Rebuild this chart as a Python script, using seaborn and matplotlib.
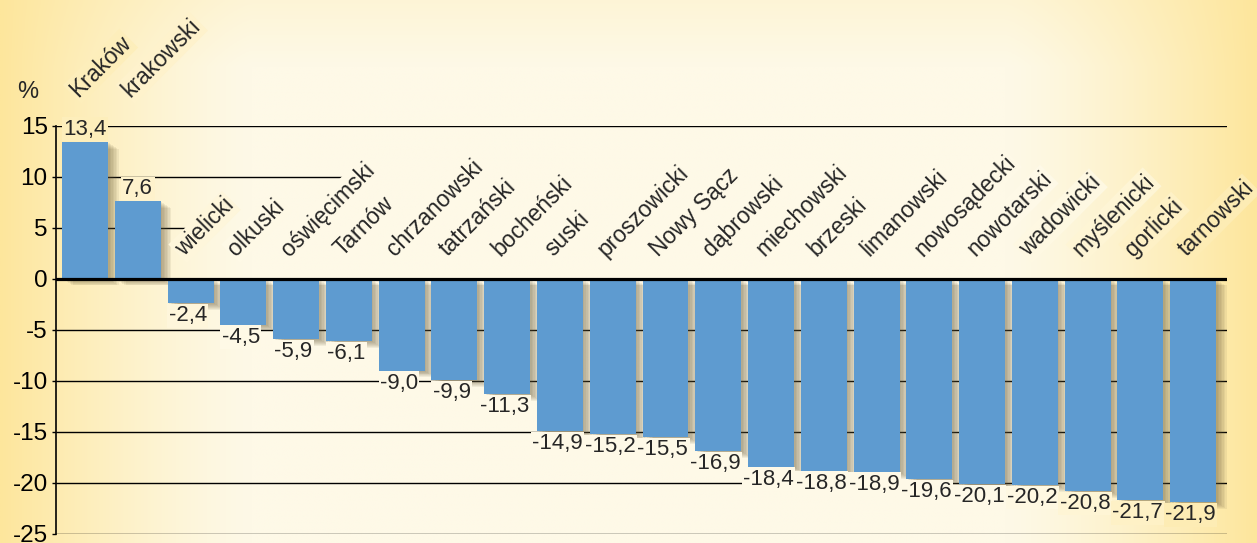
import numpy as np
import pandas as pd
import matplotlib
matplotlib.use("Agg")
import matplotlib.pyplot as plt
import matplotlib.patheffects as pe
import seaborn as sns

# ---------------- data ----------------
categories = ["Kraków", "krakowski", "wielicki", "olkuski", "oświęcimski", "Tarnów",
              "chrzanowski", "tatrzański", "bocheński", "suski", "proszowicki",
              "Nowy Sącz", "dąbrowski", "miechowski", "brzeski", "limanowski",
              "nowosądecki", "nowotarski", "wadowicki", "myślenicki", "gorlicki",
              "tarnowski"]
values = [13.4, 7.6, -2.4, -4.5, -5.9, -6.1, -9.0, -9.9, -11.3, -14.9, -15.2,
          -15.5, -16.9, -18.4, -18.8, -18.9, -19.6, -20.1, -20.2, -20.8, -21.7, -21.9]
y_ticks = [15, 10, 5, 0, -5, -10, -15, -20, -25]
unit_label = "%"

# ---------------- style ----------------
sns.set_theme(style="white")
plt.rcParams['font.family'] = ['Liberation Sans', 'DejaVu Sans']

W, H = 1257, 543
fig = plt.figure(figsize=(W / 100, H / 100), dpi=100)

CENTER = np.array([254, 249, 231]) / 255
EDGE = np.array([253, 230, 156]) / 255


def bg_weight(xf, yf):
    w = np.clip((np.abs(xf - 0.5) - 0.30) / 0.20, 0, 1) ** 1.3
    wy = np.clip((yf - 0.88) / 0.12, 0, 1) * 0.22
    return 1 - (1 - w) * (1 - wy)


def bg_color(xf, yf):
    w = bg_weight(xf, yf)
    return tuple(CENTER * (1 - w) + EDGE * w)


# background gradient
bg_ax = fig.add_axes([0, 0, 1, 1], zorder=-10)
gx, gy = np.meshgrid(np.linspace(0, 1, 800), np.linspace(0, 1, 200))
wgt = bg_weight(gx, gy)[..., None]
img = CENTER * (1 - wgt) + EDGE * wgt
bg_ax.imshow(img, aspect='auto', extent=[0, 1, 0, 1], origin='lower')
bg_ax.axis('off')

ax = fig.add_axes([56 / W, 9 / H, 1171 / W, 408.5 / H])
ax.patch.set_visible(False)

df = pd.DataFrame({"powiat": categories, "zmiana": values})
sns.barplot(data=df, x="powiat", y="zmiana", color="#5e9bd0", saturation=1,
            width=0.87, edgecolor="none", linewidth=0, ax=ax, zorder=3)

shadow_fx = [pe.SimplePatchShadow(offset=(k * 1.1, -k * 0.7), shadow_rgbFace=(0.40, 0.35, 0.22),
                                  alpha=0.085) for k in range(1, 8)]
for p in ax.patches:
    p.set_path_effects(shadow_fx + [pe.Normal()])

ax.set_xlim(-0.55, len(categories) - 1 + 0.64)
ax.set_ylim(min(y_ticks), max(y_ticks))
ax.set_xlabel("")
ax.set_ylabel("")
ax.set_xticks([])
ax.set_yticks(y_ticks)
ax.set_yticklabels([str(t) for t in y_ticks], fontsize=17.5, color="black")
ax.tick_params(axis="y", direction="out", length=3, width=1, color="black", pad=3, left=True)
for s in ["top", "right", "bottom"]:
    ax.spines[s].set_visible(False)
ax.spines["left"].set_color("black")
ax.spines["left"].set_linewidth(1.2)

ax.axhline(0, color="black", lw=2.3, zorder=4)


def fig_xfrac(xdata):
    disp = ax.transData.transform((xdata, 0))
    return fig.transFigure.inverted().transform(disp)[0]


# value labels
for i, v in enumerate(values):
    txt = f"{v:.1f}".replace(".", ",")
    xf = fig_xfrac(i)
    if v >= 0:
        ax.text(i, v + 0.2, txt, ha="center", va="bottom", fontsize=16, zorder=5,
                bbox=dict(boxstyle="square,pad=0.06", fc=bg_color(xf, 0.5), ec="none"))
    else:
        ax.text(i - 0.05, v - 0.2, txt, ha="center", va="top", fontsize=16, zorder=5,
                bbox=dict(boxstyle="square,pad=0.06", fc=bg_color(xf, 0.5), ec="none"))

# category labels
cat_texts = []
for i, (name, v) in enumerate(zip(categories, values)):
    xf = fig_xfrac(i)
    y = 17.7 if v > 0 else 2.1
    t = ax.text(i - 0.13, y, name, rotation=45, rotation_mode="anchor", ha="left",
                va="baseline", fontsize=16.5, zorder=5, clip_on=False,
                bbox=dict(boxstyle="square,pad=0.08", fc=bg_color(xf, 0.6), ec="none"))
    if v <= 0:
        cat_texts.append(t)

fig.text(0.0223, 1 - 103 / H, unit_label, fontsize=17, ha="center", va="bottom")

# gridlines
fig.canvas.draw()
x_left, x_right = ax.get_xlim()


def first_cross(yval):
    ydisp = ax.transData.transform((0, yval))[1]
    xs = []
    for t in cat_texts:
        bp = t.get_bbox_patch()
        verts = bp.get_transform().transform(bp.get_path().vertices)
        for (x0, y0), (x1, y1) in zip(verts[:-1], verts[1:]):
            if y0 != y1 and (y0 - ydisp) * (y1 - ydisp) <= 0:
                xs.append(x0 + (ydisp - y0) * (x1 - x0) / (y1 - y0))
    if not xs:
        return x_right
    return ax.transData.inverted().transform((min(xs), ydisp))[0]


for g in y_ticks:
    if g == 0:
        continue
    xe = first_cross(g) if 0 < g < max(y_ticks) else x_right
    ax.hlines(g, x_left, xe, color="black", lw=1.0, zorder=1)

fig.savefig("out.png", dpi=100)
